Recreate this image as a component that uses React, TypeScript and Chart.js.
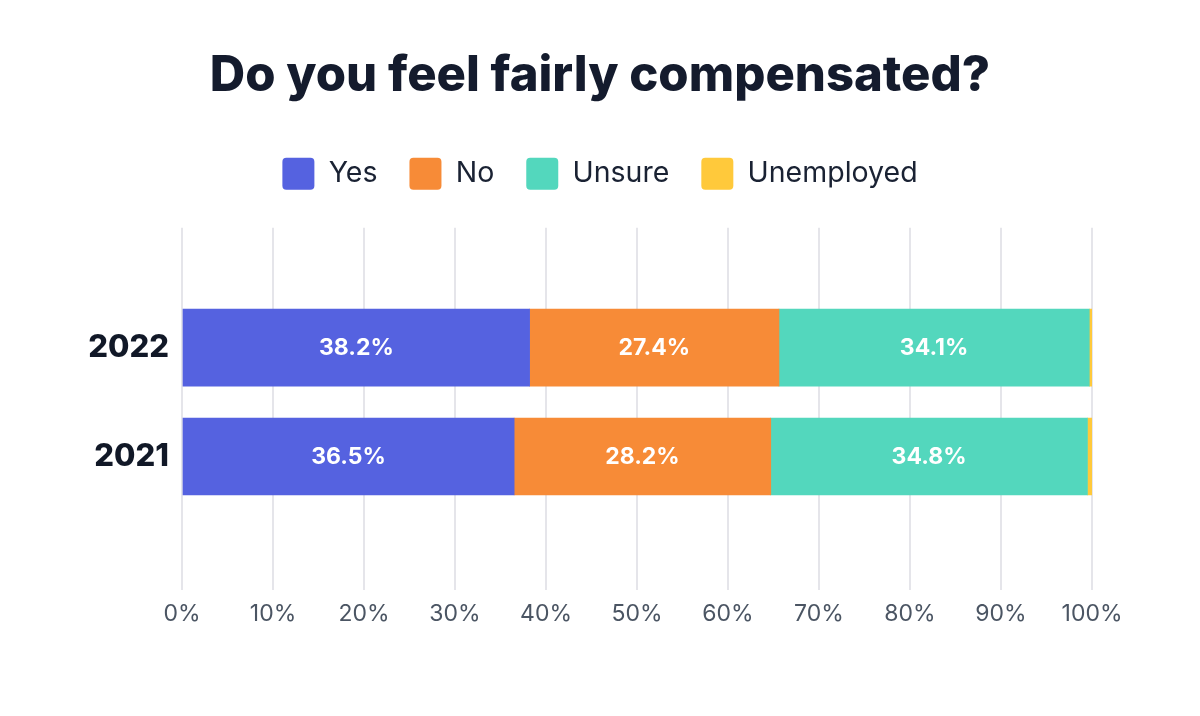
import React, { useEffect, useRef } from "react";
import { Chart, registerables } from "chart.js";

Chart.register(...registerables);

const YEARS = ["2022", "2021"];
const SERIES_NAMES = ["Yes", "No", "Unsure", "Unemployed"];
const YES = [38.2, 36.5];
const NO = [27.4, 28.2];
const UNSURE = [34.1, 34.8];
const UNEMPLOYED = [0.3, 0.5];
const SERIES = [YES, NO, UNSURE, UNEMPLOYED];
const COLORS = ["#5562E0", "#F78B37", "#53D7BD", "#FFC93B"];
const LABELLED = [true, true, true, false];
const X_TICKS_MAX = 100;

const FONT = "Inter, 'Noto Sans', sans-serif";

const barLabels = {
  id: "barLabels",
  afterDatasetsDraw(chart: any) {
    const { ctx } = chart;
    ctx.save();
    ctx.font = `700 23px ${FONT}`;
    ctx.fillStyle = "#ffffff";
    ctx.textAlign = "center";
    ctx.textBaseline = "middle";
    chart.data.datasets.forEach((_ds: any, di: number) => {
      if (!LABELLED[di]) return;
      const meta = chart.getDatasetMeta(di);
      meta.data.forEach((bar: any, i: number) => {
        const { x, y } = bar.getCenterPoint();
        ctx.fillText(SERIES[di][i].toFixed(1) + "%", x, y + 1);
      });
    });
    ctx.restore();
  },
};

const legendGap = {
  id: "legendGap",
  beforeInit(chart: any) {
    const legend = chart.legend;
    if (!legend) return;
    const orig = legend.fit;
    legend.fit = function () {
      orig.call(this);
      this.height += 28;
    };
  },
};

export default function App() {
  const ref = useRef<HTMLCanvasElement | null>(null);

  useEffect(() => {
    if (!ref.current) return;
    const chart = new Chart(ref.current, {
      type: "bar",
      data: {
        datasets: SERIES.map((vals, si) => ({
          label: SERIES_NAMES[si],
          data: vals.map((v, i) => ({ x: v, y: i })),
          backgroundColor: COLORS[si],
          borderWidth: 0,
          barThickness: 77,
        })),
      },
      options: {
        indexAxis: "y",
        animation: false,
        responsive: false,
        maintainAspectRatio: false,
        layout: { padding: { left: 0, right: 0, top: 0, bottom: 78 } },
        plugins: {
          title: {
            display: true,
            text: "Do you feel fairly compensated?",
            color: "#141B2D",
            font: { family: FONT, size: 49, weight: "800" as any },
            padding: { top: 47, bottom: 20 },
          },
          legend: {
            display: true,
            position: "top",
            labels: {
              boxWidth: 32,
              boxHeight: 32,
              padding: 32,
              color: "#1A2233",
              font: { family: FONT, size: 28.5 },
              useBorderRadius: true,
              borderRadius: 4,
            } as any,
          },
          tooltip: { enabled: false },
        },
        scales: {
          x: {
            type: "linear",
            stacked: true,
            min: 0,
            max: X_TICKS_MAX,
            ticks: {
              stepSize: 10,
              color: "#4B5563",
              font: { family: FONT, size: 23 },
              padding: 10,
              callback: (v: any) => v + "%",
            },
            grid: { color: "#E5E5EA", lineWidth: 2, drawTicks: false },
            border: { display: false },
          },
          y: {
            type: "linear",
            stacked: true,
            reverse: true,
            offset: false,
            min: -1.1,
            max: 2.23,
            grid: { display: false, drawTicks: false, offset: false },
            border: { display: false },
            afterBuildTicks: (scale: any) => {
              scale.ticks = YEARS.map((_, i) => ({ value: i }));
            },
            afterFit: (scale: any) => {
              scale.width = 182;
            },
            ticks: {
              color: "#111827",
              font: { family: FONT, size: 31, weight: "800" as any },
              padding: 13,
              callback: (v: any) => YEARS[v] ?? "",
            },
          },
          yRight: {
            type: "linear",
            position: "right",
            display: true,
            grid: { display: false, drawTicks: false },
            border: { display: false },
            ticks: { display: false },
            afterFit: (scale: any) => {
              scale.width = 108;
            },
          },
        },
      },
      plugins: [barLabels, legendGap],
    });
    return () => chart.destroy();
  }, []);

  return (
    <div style={{ position: "fixed", left: 0, top: 0, width: 1200, height: 716, background: "#fff" }}>
      <canvas ref={ref} width={1200} height={716} />
    </div>
  );
}
